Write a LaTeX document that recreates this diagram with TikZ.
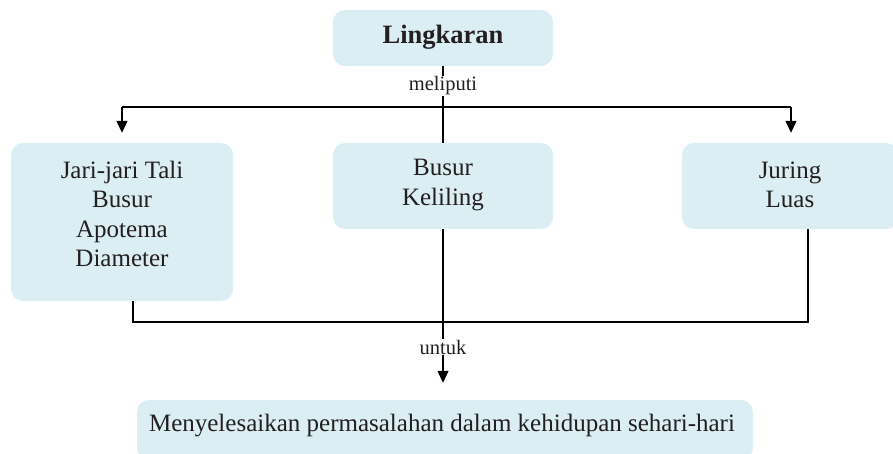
\documentclass[tikz,border=0pt]{standalone}
\usepackage{fontspec}
\setmainfont{Liberation Serif}
\usetikzlibrary{calc,arrows.meta}
\definecolor{boxfill}{RGB}{219,238,243}
\definecolor{txt}{RGB}{35,31,32}
\begin{document}
\begin{tikzpicture}[x=1pt,y=1pt,
  box/.style={fill=boxfill,rounded corners=12pt,inner sep=0pt},
  lbl/.style={text=txt,font=\fontsize{25}{29.5}\selectfont,align=center,inner sep=0pt},
  conn/.style={draw=black,line width=1.3pt},
  arr/.style={conn,-{Triangle[length=12pt,width=11pt]}},
  tag/.style={text=txt,font=\fontsize{20.5}{23}\selectfont,fill=white,inner sep=1pt}]
\useasboundingbox (0,0) rectangle (893,-454);
% boxes
\node[box,minimum width=220pt,minimum height=56pt] (L) at (443,-38) {};
\node[lbl,font=\fontsize{26.5}{30}\selectfont\bfseries] (Lt) at (443,-37) {Lingkaran};
\node[box,minimum width=222pt,minimum height=158pt] (A) at (122,-222) {};
\node[lbl] (At) at (122,-214) {Jari-jari Tali\\Busur\\Apotema\\Diameter};
\node[box,minimum width=220pt,minimum height=86pt] (B) at (443,-186) {};
\node[lbl] (Bt) at (443,-185) {Busur\\Keliling};
\node[box,minimum width=216pt,minimum height=86pt] (C) at (790,-186) {};
\node[lbl] (Ct) at (790,-185) {Juring\\Luas};
\node[box,minimum width=616pt,minimum height=60pt] (D) at (445,-430) {};
\node[lbl] (Dt) at (442,-426) {Menyelesaikan permasalahan dalam kehidupan sehari-hari};
% connectors
\coordinate (jl) at (122,-107);
\coordinate (jr) at (791,-107);
\draw[conn] (L.south) -- (B.north);
\draw[conn] (jl) -- (jr);
\draw[arr] (jl) -- ($(A.north)+(0,10)$);
\draw[arr] (jr) -- ($(jr |- C.north)+(0,10)$);
\node[tag] (m) at (443,-86) {meliputi};
\coordinate (bl) at (133,-322);
\coordinate (br) at (808,-322);
\draw[conn] (bl |- A.south) -- (bl) -- (br) -- (br |- C.south);
\draw[arr] (B.south) -- ($(B.south |- D.north)+(0,17)$);
\node[tag] (u) at (443,-347) {untuk};
\end{tikzpicture}
\end{document}
